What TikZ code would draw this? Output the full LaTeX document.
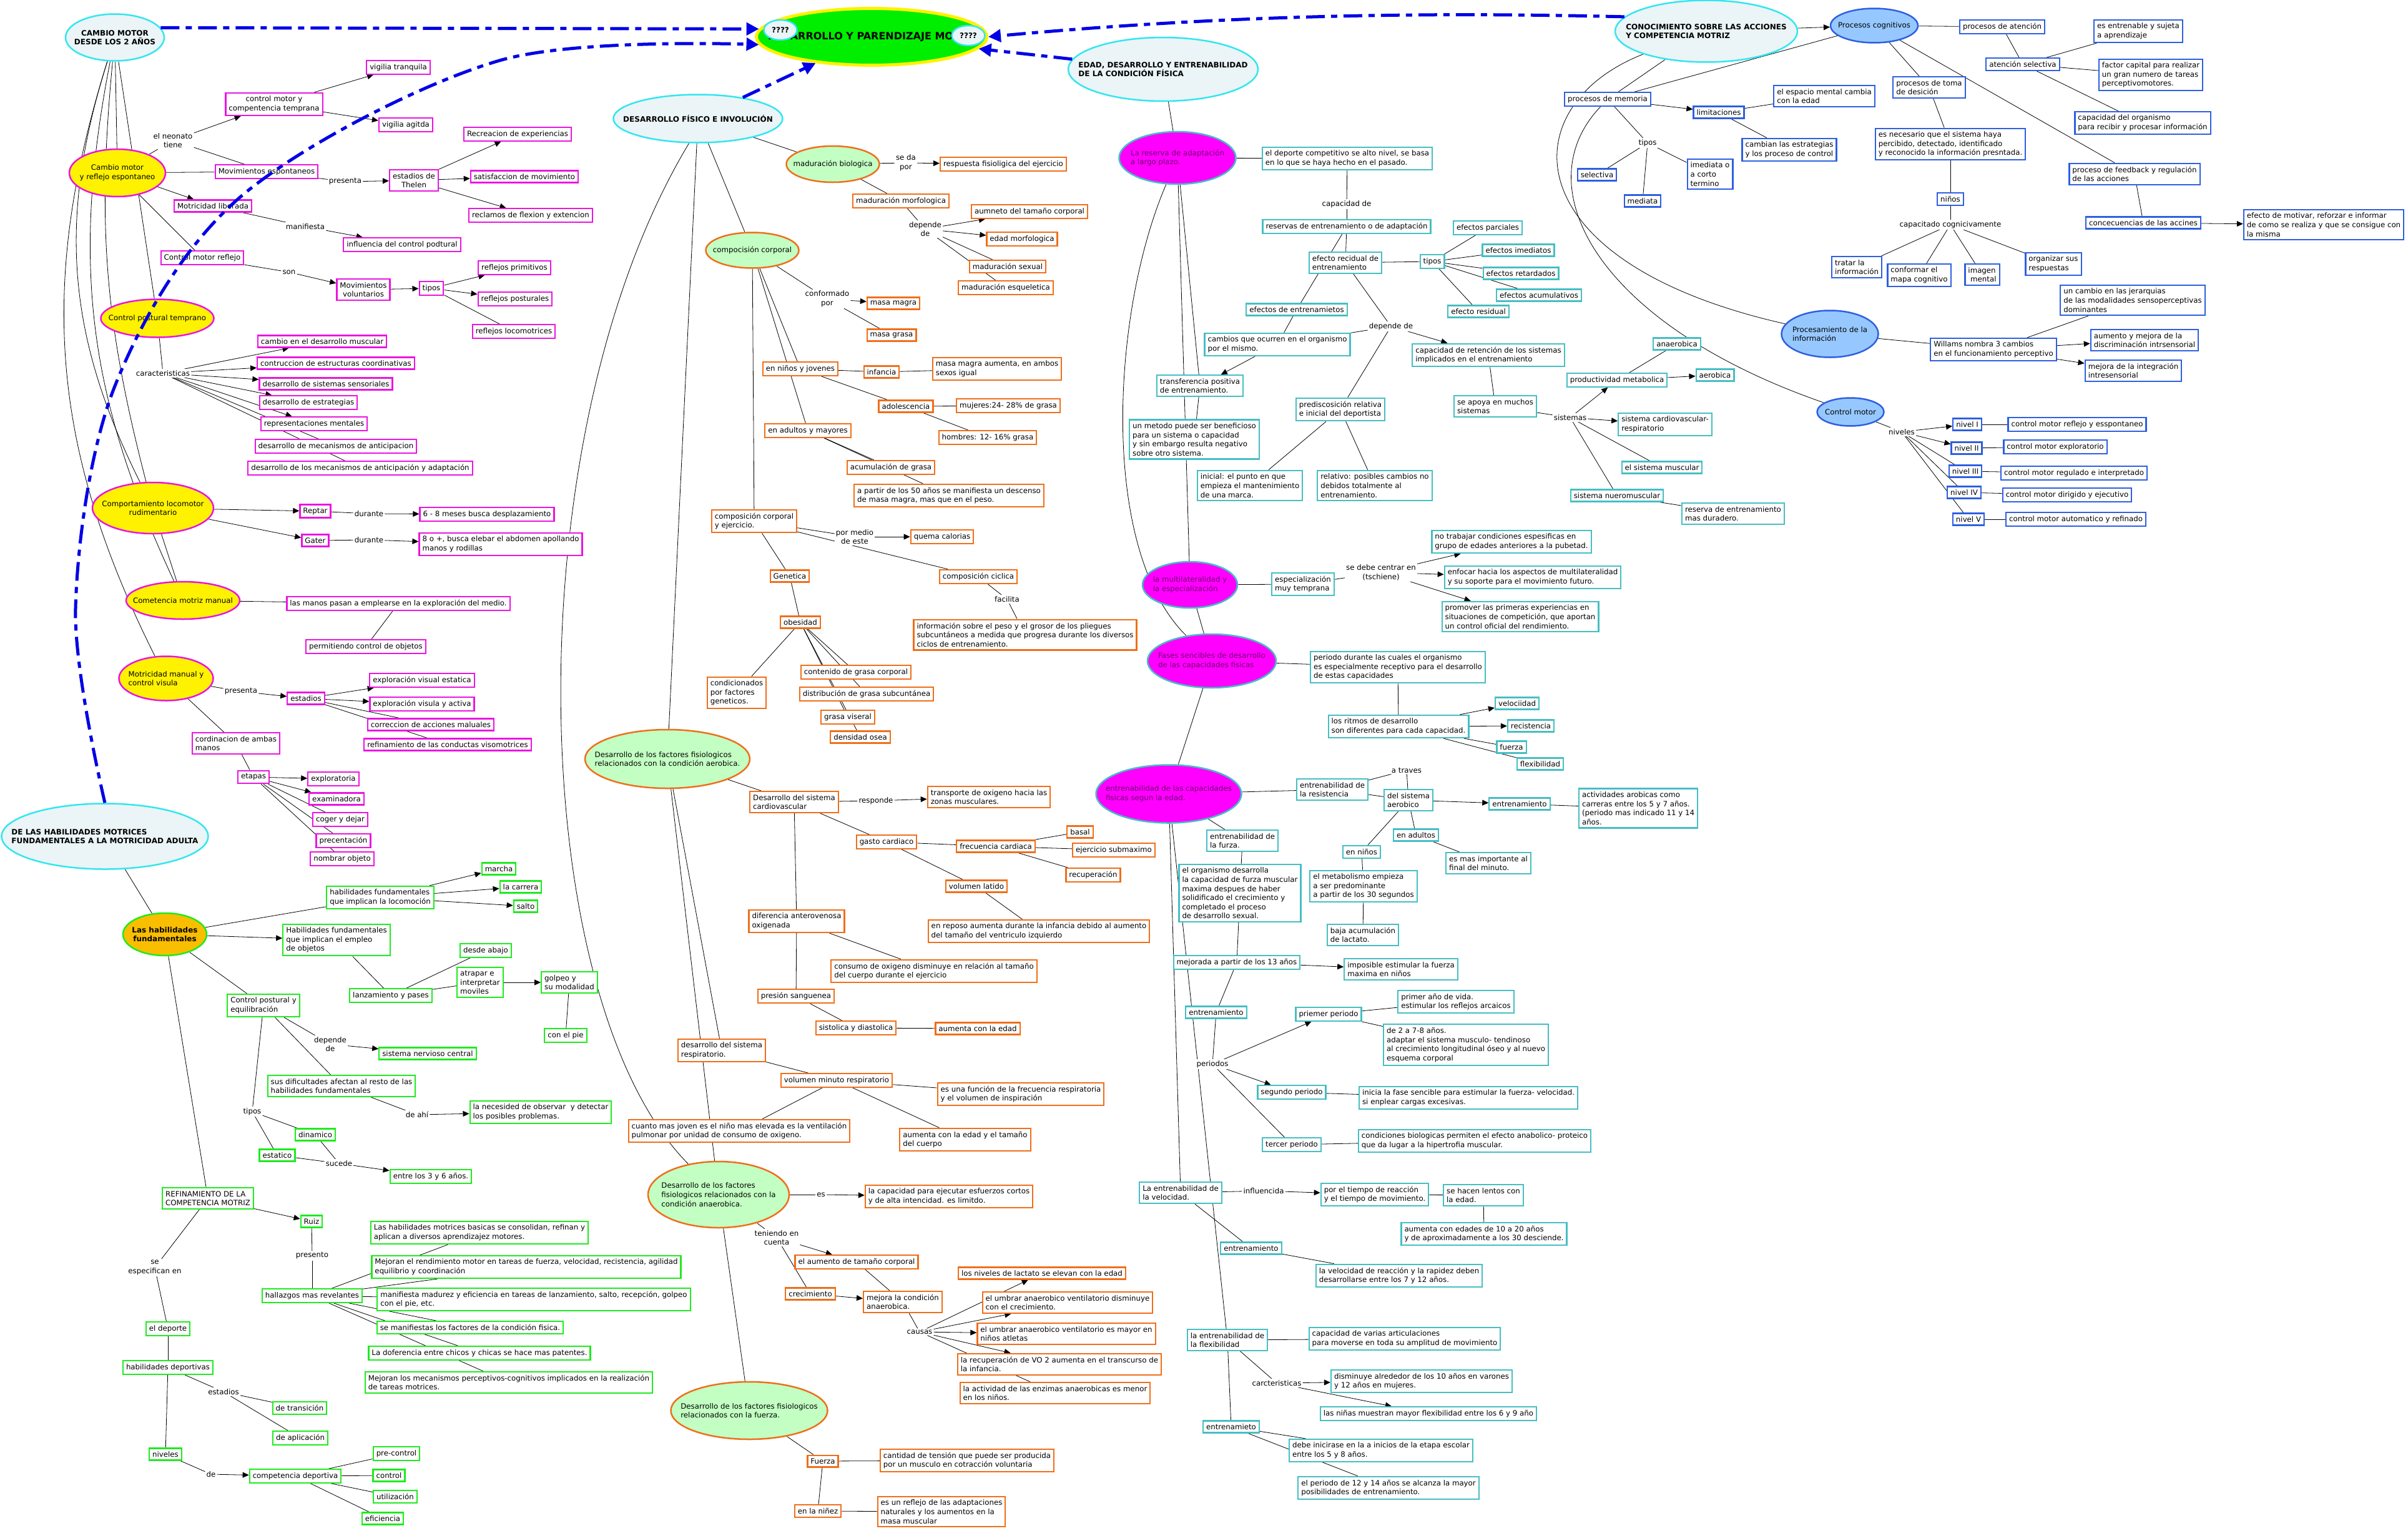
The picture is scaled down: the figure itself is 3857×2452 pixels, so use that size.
\documentclass[tikz,border=0pt]{standalone}
\usepackage{fontspec}
\setmainfont{DejaVu Sans}
\usetikzlibrary{shapes.geometric,arrows.meta}
\pgfdeclarelayer{back}
\pgfdeclarelayer{bg}
\pgfsetlayers{back,bg,main}
\definecolor{cMag}{RGB}{235,20,225}
\definecolor{cOra}{RGB}{240,110,25}
\definecolor{cTeal}{RGB}{70,190,195}
\definecolor{cBlue}{RGB}{45,95,225}
\definecolor{cGreen}{RGB}{30,235,30}
\definecolor{cLG}{RGB}{195,255,195}
\definecolor{cMagF}{RGB}{255,0,255}
\definecolor{cMagT}{RGB}{110,0,110}
\definecolor{cLB}{RGB}{150,200,255}
\definecolor{cTopic}{RGB}{235,244,246}
\definecolor{cCyan}{RGB}{50,230,240}
\definecolor{cCentral}{RGB}{0,238,0}
\definecolor{cAmber}{RGB}{250,190,0}
\definecolor{cDash}{RGB}{0,0,230}
\begin{document}
\begin{tikzpicture}[x=1pt,y=-1pt,
  every node/.style={font=\fontsize{11.8}{14.6}\selectfont, text=black},
  bx/.style={draw, line width=2.2pt, fill=white, inner xsep=5pt, inner ysep=5pt, align=left},
  pb/.style={bx, draw=cMag},
  ob/.style={bx, draw=cOra},
  tb/.style={bx, draw=cTeal},
  bb/.style={bx, draw=cBlue},
  gb/.style={bx, draw=cGreen},
  lk/.style={inner sep=2pt, align=center, fill=white},
  ttl/.style={font=\bfseries\fontsize{12}{14.6}\selectfont, align=center},
  mtx/.style={text=cMagT, align=left},
  ell/.style={ellipse, line width=2.5pt, inner sep=0pt},
  topic/.style={ell, draw=cCyan, fill=cTopic},
  yel/.style={ell, draw=cMag, fill=yellow},
  lg/.style={ell, draw=cOra, fill=cLG},
  mg/.style={ell, draw=cTeal, fill=cMagF},
  lb/.style={ell, draw=cBlue, fill=cLB},
  ln/.style={line width=0.8pt},
  ar/.style={ln, -{Triangle[length=10pt,width=9pt]}},
  bd/.style={line width=5pt, draw=cDash, dash pattern=on 30pt off 10pt on 10pt off 10pt, -{Triangle[length=20pt,width=20pt]}}
]
\begin{pgfonlayer}{back}
\fill[white] (0,0) rectangle (3857,2452);
\end{pgfonlayer}
\useasboundingbox (0,0) rectangle (3857,2452);

% ================= CENTRAL =================
\node[ell,draw=yellow,fill=cCentral,line width=5pt,minimum width=369pt,minimum height=91pt] (cen) at (1396,59) {};
\node[font=\bfseries\fontsize{16}{18}\selectfont] at (1397,59) {DESARROLLO Y PARENDIZAJE MOTOR};
\node[ell,draw=cCyan,fill=cTopic,minimum width=53pt,minimum height=32pt] (q1) at (1250,48) {};
\node[ttl] at (q1) {????};
\node[ell,draw=cCyan,fill=cTopic,minimum width=53pt,minimum height=32pt] (q2) at (1551,57) {};
\node[ttl] at (q2) {????};

% ================= LEFT: CAMBIO MOTOR =================
\node[topic,minimum width=158pt,minimum height=75pt] (cmd) at (184,60) {};
\node[ttl] at (cmd) {CAMBIO MOTOR\\DESDE LOS 2 AÑOS};
\node[yel,minimum width=154pt,minimum height=76pt] (cme) at (188,277) {};
\node[align=center] at (cme) {Cambio motor\\y reflejo espontaneo};
\node[pb,align=center] (cmct) at (439,167) {control motor y\\compentencia temprana};
\node[pb] (vt) at (638,108) {vigilia tranquila};
\node[pb] (va) at (650,200) {vigilia agitda};
\node[pb] (rec) at (829,215) {Recreacion de experiencias};
\node[lk] (neo) at (277,225) {el neonato\\tiene};
\node[pb] (mes) at (427,275) {Movimientos espontaneos};
\node[lk] (pres1) at (553,291) {presenta};
\node[pb,align=center] (the) at (663,289) {estadios de\\Thelen};
\node[pb] (sat) at (840,283) {satisfaccion de movimiento};
\node[pb] (recl) at (850,345) {reclamos de flexion y extencion};
\node[pb] (mlib) at (341,330) {Motricidad liberada};
\node[lk] (man) at (489,363) {manifiesta};
\node[pb] (inf) at (644,392) {influencia del control podtural};
\node[pb] (cmr) at (324,413) {Control motor reflejo};
\node[lk] (son) at (463,436) {son};
\node[pb,align=center] (mvol) at (582,464) {Movimientos\\voluntarios};
\node[pb] (tip1) at (691,462) {tipos};
\node[pb] (rpri) at (824,429) {reflejos primitivos};
\node[pb] (rpos) at (825,479) {reflejos posturales};
\node[pb] (rloc) at (823,531) {reflejos locomotrices};
\node[yel,minimum width=181pt,minimum height=61pt] (cpt) at (252,510) {};
\node at (cpt) {Control postural temprano};
\node[lk] (car) at (261,598) {caracteristicas};
\node[pb] (c1) at (516,547) {cambio en el desarrollo muscular};
\node[pb] (c2) at (538,582) {contruccion de estructuras coordinativas};
\node[pb] (c3) at (522,615) {desarrollo de sistemas sensoriales};
\node[pb] (c4) at (494,645) {desarrollo de estrategias};
\node[pb] (c5) at (503,679) {representaciones mentales};
\node[pb] (c6) at (538,715) {desarrollo de mecanismos de anticipacion};
\node[pb] (c7) at (577,750) {desarrollo de los mecanismos de anticipación y adaptación};
\node[yel,minimum width=194pt,minimum height=82pt] (clr) at (245,814) {};
\node[align=center] at (clr) {Comportamiento locomotor\\rudimentario};
\node[pb] (rep) at (505,819) {Reptar};
\node[lk] (dur1) at (591,823) {durante};
\node[pb] (m68) at (780,824) {6 - 8 meses busca desplazamiento};
\node[pb] (gat) at (505,866) {Gater};
\node[lk] (dur2) at (591,865) {durante};
\node[pb] (m8) at (802,872) {8 o +, busca elebar el abdomen apollando\\manos y rodillas};
\node[yel,minimum width=182pt,minimum height=60pt] (cmm) at (293,962) {};
\node at (cmm) {Cometencia motriz manual};
\node[pb] (lmp) at (638,967) {las manos pasan a emplearse en la exploración del medio.};
\node[pb] (pco) at (586,1036) {permitiendo control de objetos};
\node[yel,minimum width=151pt,minimum height=71pt] (mmc) at (266,1087) {};
\node[align=left] at (mmc) {Motricidad manual y\\control visula};
\node[lk] (pres2) at (386,1108) {presenta};
\node[pb] (est1) at (490,1119) {estadios};
\node[pb] (eve) at (676,1090) {exploración visual estatica};
\node[pb] (eva) at (676,1128) {exploración visula y activa};
\node[pb] (cam) at (690,1161) {correccion de acciones maluales};
\node[pb] (rcv) at (717,1193) {refinamiento de las conductas visomotrices};
\node[pb] (cam2) at (378,1191) {cordinacion de ambas\\manos};
\node[pb] (eta) at (406,1245) {etapas};
\node[pb] (e1) at (534,1248) {exploratoria};
\node[pb] (e2) at (539,1280) {examinadora};
\node[pb] (e3) at (545,1313) {coger y dejar};
\node[pb] (e4) at (550,1347) {precentación};
\node[pb] (e5) at (548,1376) {nombrar objeto};

% ================= LEFT: HABILIDADES =================
\node[topic,minimum width=331pt,minimum height=105pt] (dlh) at (168,1340) {};
\node[ttl,align=left] at (dlh) {DE LAS HABILIDADES MOTRICES\\FUNDAMENTALES A LA MOTRICIDAD ADULTA};
\node[ell,draw=cGreen,fill=cAmber,minimum width=134pt,minimum height=68pt] (lhf) at (264,1497) {};
\node[ttl] at (lhf) {Las habilidades\\fundamentales};
\node[gb] (hloc) at (609,1438) {habilidades fundamentales\\que implican la locomoción};
\node[gb] (mar) at (799,1392) {marcha};
\node[gb] (car2) at (834,1421) {la carrera};
\node[gb] (sal) at (842,1452) {salto};
\node[gb] (hobj) at (539,1506) {Habilidades fundamentales\\que implican el empleo\\de objetos};
\node[gb] (dab) at (778,1523) {desde abajo};
\node[gb] (atr) at (769,1574) {atrapar e\\interpretar\\moviles};
\node[gb] (gol) at (912,1574) {golpeo y\\su modalidad};
\node[gb] (lan) at (626,1595) {lanzamiento y pases};
\node[gb] (cpe) at (422,1611) {Control postural y\\equilibración};
\node[gb] (pie) at (906,1659) {con el pie};
\node[lk] (dep1) at (529,1673) {depende\\de};
\node[gb] (snc) at (685,1688) {sistema nervioso central};
\node[gb] (sdif) at (547,1740) {sus dificultades afectan al resto de las\\ habilidades fundamentales};
\node[lk] (deahi) at (668,1786) {de ahí};
\node[gb] (nec) at (866,1782) {la necesided de observar\ \ y detectar\\los posibles problemas.};
\node[lk] (tip2) at (404,1781) {tipos};
\node[gb] (din) at (505,1818) {dinamico};
\node[gb] (estt) at (444,1851) {estatico};
\node[lk] (suc) at (543,1864) {sucede};
\node[gb] (e36) at (690,1885) {entre los 3 y 6 años.};
\node[gb] (ref) at (333,1920) {REFINAMIENTO DE LA\\COMPETENCIA MOTRIZ};
\node[gb] (ruiz) at (499,1957) {Ruiz};
\node[lk] (presn) at (500,2012) {presento};
\node[gb] (h1) at (768,1975) {Las habilidades motrices basicas se consolidan, refinan y\\aplican a diversos aprendizajez motores.};
\node[gb] (h2) at (843,2030) {Mejoran el rendimiento motor en tareas de fuerza, velocidad, recistencia, agilidad\\equilibrio y coordinación};
\node[gb] (h3) at (855,2082) {manifiesta madurez y eficiencia en tareas de lanzamiento, salto, recepción, golpeo\\con el pie, etc.};
\node[gb] (h4) at (753,2127) {se manifiestas los factores de la condición fisica.};
\node[gb] (h5) at (768,2168) {La doferencia entre chicos y chicas se hace mas patentes.};
\node[gb] (h6) at (815,2215) {Mejoran los mecanismos perceptivos-cognitivos implicados en la realización\\de tareas motrices.};
\node[gb] (hal) at (500,2076) {hallazgos mas revelantes};
\node[lk] (esp) at (248,2031) {se\\especifican en};
\node[gb] (edep) at (269,2129) {el deporte};
\node[gb] (hdep) at (269,2191) {habilidades deportivas};
\node[lk] (est2) at (358,2230) {estadios};
\node[gb] (dtr) at (480,2256) {de transición};
\node[gb] (dap) at (481,2304) {de aplicación};
\node[gb] (niv) at (265,2330) {niveles};
\node[lk] (de1) at (338,2362) {de};
\node[gb] (cdep) at (473,2365) {competencia deportiva};
\node[gb] (pc) at (635,2329) {pre-control};
\node[gb] (ctl) at (623,2364) {control};
\node[gb] (uti) at (633,2398) {utilización};
\node[gb] (efi) at (613,2433) {eficiencia};

% ================= MIDDLE: DESARROLLO FISICO =================
\node[topic,minimum width=271pt,minimum height=77pt] (df) at (1118,190) {};
\node[ttl] at (df) {DESARROLLO FÍSICO E INVOLUCIÓN};
\node[lg,minimum width=149pt,minimum height=58pt] (mb) at (1334,263) {};
\node at (mb) {maduración biologica};
\node[lk] (sdp) at (1451,261) {se da\\por};
\node[ob] (resp) at (1607,263) {respuesta fisioligica del ejercicio};
\node[ob] (mmo) at (1443,322) {maduración morfologica};
\node[lk] (dep2) at (1482,367) {depende\\de};
\node[ob] (aum) at (1649,339) {aumneto del tamaño corporal};
\node[ob] (edm) at (1637,383) {edad morfologica};
\node[ob] (msx) at (1614,427) {maduración sexual};
\node[ob] (mes2) at (1611,461) {maduración esqueletica};
\node[lg,minimum width=149pt,minimum height=57pt] (cc) at (1205,401) {};
\node at (cc) {compocisión corporal};
\node[lk] (conf) at (1325,479) {conformado\\por};
\node[ob] (mmag) at (1431,486) {masa magra};
\node[ob] (mgra) at (1428,537) {masa grasa};
\node[ob] (nyj) at (1282,591) {en niños y jovenes};
\node[ob] (infa) at (1412,596) {infancia};
\node[ob] (mma) at (1597,591) {masa magra aumenta, en ambos\\sexos igual};
\node[ob] (adol) at (1451,651) {adolescencia};
\node[ob] (muj) at (1615,650) {mujeres:24- 28\% de grasa};
\node[ob] (hom) at (1582,701) {hombres: 12- 16\% grasa};
\node[ob] (aym) at (1294,690) {en adultos y mayores};
\node[ob] (acu) at (1427,749) {acumulación de grasa};
\node[ob] (a50) at (1520,794) {a partir de los 50 años se manifiesta un descenso\\ de masa magra, mas que en el peso.};
\node[ob] (cce) at (1208,835) {composición corporal\\y ejercicio.};
\node[lk] (pme) at (1369,860) {por medio\\de este};
\node[ob] (qc) at (1509,860) {quema calorias};
\node[ob] (gen) at (1265,923) {Genetica};
\node[ob] (cci) at (1567,924) {composición ciclica};
\node[lk] (fac) at (1613,960) {facilita};
\node[ob] (ipg) at (1642,1017) {información sobre el peso y el grosor de los pliegues\\subcuntáneos a medida que progresa durante los diversos\\ciclos de entrenamiento.};
\node[ob] (obe) at (1282,997) {obesidad};
\node[ob] (cfg) at (1180,1110) {condicionados\\por factores\\geneticos.};
\node[ob] (cgc) at (1371,1077) {contenido de grasa corporal};
\node[ob] (dgs) at (1388,1112) {distribución de grasa subcuntánea};
\node[ob] (gv) at (1358,1149) {grasa viseral};
\node[ob] (dos) at (1378,1181) {densidad osea};
\node[lg,minimum width=264pt,minimum height=94pt] (aer) at (1069,1216) {};
\node[align=left] at (aer) {Desarrollo de los factores fisiologicos\\relacionados con la condición aerobica.};
\node[ob] (dsc) at (1272,1285) {Desarrollo del sistema\\cardiovascular};
\node[lk] (res) at (1403,1283) {responde};
\node[ob] (tox) at (1584,1277) {transporte de oxigeno hacia las\\zonas musculares.};
\node[ob] (gc) at (1420,1349) {gasto cardiaco};
\node[ob] (fc) at (1595,1356) {frecuencia cardiaca};
\node[ob] (bas) at (1730,1333) {basal};
\node[ob] (esm) at (1784,1362) {ejercicio submaximo};
\node[ob] (recu) at (1751,1402) {recuperación};
\node[ob] (vl) at (1564,1420) {volumen latido};
\node[ob] (erp) at (1664,1492) {en reposo aumenta durante la infancia debido al aumento\\del tamaño del ventriculo izquierdo};
\node[ob] (dao) at (1276,1476) {diferencia anterovenosa\\oxigenada};
\node[ob] (cox) at (1496,1556) {consumo de oxigeno disminuye en relación al tamaño\\del cuerpo durante el ejercicio};
\node[ob] (ps) at (1275,1596) {presión sanguenea};
\node[ob] (syd) at (1371,1647) {sistolica y diastolica};
\node[ob] (ace) at (1566,1648) {aumenta con la edad};
\node[ob] (dsr) at (1156,1683) {desarrollo del sistema\\respiratorio.};
\node[ob] (vmr) at (1340,1731) {volumen minuto respiratorio};
\node[ob] (fre) at (1635,1753) {es una función de la frecuencia respiratoria\\y el volumen de inspiración};
\node[ob] (cmj) at (1184,1812) {cuanto mas joven es el niño mas elevada es la ventilación\\pulmonar por unidad de consumo de oxigeno.};
\node[ob] (acet) at (1546,1826) {aumenta con la edad y el tamaño\\del cuerpo};
\node[lg,minimum width=226pt,minimum height=106pt] (ana) at (1151,1914) {};
\node[align=left] at (ana) {Desarrollo de los factores\\fisiologicos relacionados con la\\condición anaerobica.};
\node[lk] (es1) at (1315,1914) {es};
\node[ob] (cap) at (1520,1917) {la capacidad para ejecutar esfuerzos cortos\\y de alta intencidad. es limitdo.};
\node[lk] (tec) at (1244,1983) {teniendo en\\cuenta};
\node[ob] (atc) at (1372,2022) {el aumento de tamaño corporal};
\node[ob] (cre) at (1298,2073) {crecimiento};
\node[ob] (mca) at (1446,2086) {mejora la condición\\anaerobica.};
\node[lk] (cau) at (1473,2134) {causas};
\node[ob] (lac) at (1669,2040) {los niveles de lactato se elevan con la edad};
\node[ob] (ua1) at (1710,2087) {el umbrar anaerobico ventilatorio disminuye\\con el crecimiento.};
\node[ob] (ua2) at (1708,2137) {el umbrar anaerobico ventilatorio es mayor en\\niños atletas};
\node[ob] (vo2) at (1697,2186) {la recuperación de VO 2 aumenta en el transcurso de\\la infancia.};
\node[ob] (enz) at (1690,2232) {la actividad de las enzimas anaerobicas es menor\\en los niños.};
\node[lg,minimum width=251pt,minimum height=92pt] (fue) at (1200,2260) {};
\node[align=left] at (fue) {Desarrollo de los factores fisiologicos\\relacionados con la fuerza.};
\node[ob] (fz) at (1318,2341) {Fuerza};
\node[ob] (ctv) at (1549,2340) {cantidad de tensión que puede ser producida\\por un musculo en cotracción voluntaria};
\node[ob] (enn) at (1310,2421) {en la niñez};
\node[ob] (ref2) at (1508,2422) {es un reflejo de las adaptaciones\\naturales y los aumentos en la\\masa muscular};

% ================= EDAD =================
\node[topic,minimum width=304pt,minimum height=102pt] (edad) at (1863,111) {};
\node[ttl,align=left] at (edad) {EDAD, DESARROLLO Y ENTRENABILIDAD\\DE LA CONDICIÓN FÍSICA};
\node[mg,minimum width=187pt,minimum height=84pt] (rsv) at (1886,253) {};
\node[mtx] at (rsv) {La reserva de adaptación\\a largo plazo.};
\node[tb] (dco) at (2158,254) {el deporte competitivo se alto nivel, se basa\\en lo que se haya hecho en el pasado.};
\node[lk] (capd) at (2157,327) {capacidad de};
\node[tb] (rea) at (2157,363) {reservas de entrenamiento o de adaptación};
\node[tb] (erd) at (2155,421) {efecto recidual de\\entrenamiento};
\node[tb] (tip3) at (2294,419) {tipos};
\node[tb] (ep) at (2383,365) {efectos parciales};
\node[tb] (ei) at (2432,401) {efectos imediatos};
\node[tb] (er) at (2436,438) {efectos retardados};
\node[tb] (ea) at (2465,473) {efectos acumulativos};
\node[tb] (eres) at (2368,499) {efecto residual};
\node[tb] (ede) at (2077,496) {efectos de entrenamietos};
\node[lk] (dep3) at (2228,523) {depende de};
\node[tb] (cqo) at (2046,552) {cambios que ocurren en el organismo\\por el mismo.};
\node[tb] (tpe) at (1922,618) {transferencia positiva\\de entrenamiento.};
\node[tb] (umb) at (1913,704) {un metodo puede ser beneficioso\\para un sistema o capacidad\\y sin embargo resulta negativo\\sobre otro sistema.};
\node[tb] (ini) at (2002,778) {inicial: el punto en que\\empieza el mantenimiento\\de una marca.};
\node[tb] (pri) at (2147,656) {prediscosición relativa\\e inicial del deportista};
\node[tb] (rel) at (2202,778) {relativo: posibles cambios no\\debidos totalmente al\\entrenamiento.};
\node[tb] (crs) at (2384,569) {capacidad de retención de los sistemas\\implicados en el entrenamiento};
\node[tb] (sam) at (2395,651) {se apoya en muchos\\sistemas};
\node[lk] (sis) at (2515,669) {sistemas};
\node[tb] (pme2) at (2590,609) {productividad metabolica};
\node[tb] (anb) at (2686,551) {anaerobica};
\node[tb] (aeb) at (2747,601) {aerobica};
\node[tb] (scr) at (2667,680) {sistema cardiovascular-\\ respiratorio};
\node[tb] (smu) at (2662,749) {el sistema muscular};
\node[tb] (snm) at (2590,794) {sistema nueromuscular};
\node[tb] (rem) at (2776,823) {reserva de entrenamiento\\mas duradero.};
\node[mg,minimum width=152pt,minimum height=74pt] (mul) at (1906,937) {};
\node[mtx] at (mul) {la multilateralidad y\\la especialización};
\node[tb] (emt) at (2087,936) {especialización\\ muy temprana};
\node[lk] (sdc) at (2212,917) {se debe centrar en\\(tschiene)};
\node[tb] (ntc) at (2421,868) {no trabajar condiciones espesificas en\\ grupo de edades anteriores a la pubetad.};
\node[tb] (enf) at (2455,925) {enfocar hacia los aspectos de multilateralidad\\y su soporte para el movimiento futuro.};
\node[tb] (pro) at (2435,988) {promover las primeras experiencias en\\situaciones de competición, que aportan\\un control oficial del rendimiento.};
\node[mg,minimum width=206pt,minimum height=86pt] (fas) at (1941,1059) {};
\node[mtx] at (fas) {Fases sencibles de desarrollo\\de las capacidades fisicas};
\node[tb] (pdc) at (2239,1069) {periodo durante las cuales el organismo\\es especialmente receptivo para el desarrollo\\ de estas capacidades};
\node[tb] (rit) at (2240,1164) {los ritmos de desarrollo\\son diferentes para cada capacidad.};
\node[tb] (vel) at (2430,1127) {velociidad};
\node[tb] (rec2) at (2452,1163) {recistencia};
\node[tb] (fza) at (2421,1197) {fuerza};
\node[tb] (flx) at (2467,1224) {flexibilidad};
\node[mg,minimum width=233pt,minimum height=93pt] (ent) at (1872,1272) {};
\node[mtx] at (ent) {entrenabilidad de las capacidades\\fisicas segun la edad.};
\node[tb] (eres2) at (2134,1265) {entrenabilidad de\\la resistencia};
\node[lk] (atr2) at (2253,1234) {a traves};
\node[tb] (dsa) at (2256,1282) {del sistema\\aerobico};
\node[tb] (entr1) at (2434,1288) {entrenamiento};
\node[tb] (aca) at (2624,1295) {actividades arobicas como\\carreras entre los 5 y 7 años.\\(periodo mas indicado 11 y 14\\años.};
\node[tb] (enin) at (2181,1365) {en niños};
\node[tb] (ead) at (2268,1338) {en adultos};
\node[tb] (emi) at (2384,1383) {es mas importante al\\final del minuto.};
\node[tb] (met) at (2184,1420) {el metabolismo empieza\\a ser predominante\\a partir de los 30 segundos};
\node[tb] (baj) at (2183,1498) {baja acumulación\\de lactato.};
\node[tb] (efz) at (1990,1347) {entrenabilidad de\\la furza.};
\node[tb] (eod) at (1986,1431) {el organismo desarrolla\\la capacidad de furza muscular\\maxima despues de haber\\solidificado el crecimiento y\\completado el proceso\\de desarrollo sexual.};
\node[tb] (m13) at (1981,1542) {mejorada a partir de los 13 años};
\node[tb] (imp) at (2244,1553) {imposible estimular la fuerza\\maxima en niños};
\node[tb] (entr2) at (1948,1622) {entrenamiento};
\node[tb] (pp) at (2128,1625) {priemer periodo};
\node[tb] (pav) at (2332,1605) {primer año de vida.\\estimular los reflejos arcaicos};
\node[tb] (d27) at (2348,1674) {de 2 a 7-8 años.\\adaptar el sistema musculo- tendinoso\\al crecimiento longitudinal óseo y al nuevo\\esquema corporal};
\node[lk] (per) at (1942,1705) {periodos};
\node[tb] (sp) at (2069,1750) {segundo periodo};
\node[tb] (ifs) at (2352,1759) {inicia la fase sencible para estimular la fuerza- velocidad.\\si enplear cargas excesivas.};
\node[tb] (tp) at (2069,1834) {tercer periodo};
\node[tb] (cbp) at (2362,1828) {condiciones biologicas permiten el efecto anabolico- proteico\\que da lugar a la hipertrofia muscular.};
\node[tb] (evl) at (1891,1911) {La entrenabilidad de\\la velocidad.};
\node[lk] (infl) at (2024,1908) {influencida};
\node[tb] (ptr) at (2202,1914) {por el tiempo de reacción\\y el tiempo de movimiento.};
\node[tb] (shl) at (2376,1915) {se hacen lentos con\\la edad.};
\node[tb] (a1020) at (2377,1977) {aumenta con edades de 10 a 20 años\\y de aproximadamente a los 30 desciende.};
\node[tb] (entr3) at (2004,2000) {entrenamiento};
\node[tb] (vrr) at (2241,2044) {la velocidad de reacción y la rapidez deben\\desarrollarse entre los 7 y 12 años.};
\node[tb] (efl) at (1966,2147) {la entrenabilidad de\\la flexibilidad};
\node[tb] (cva) at (2250,2145) {capacidad de varias articulaciones\\para moverse en toda su amplitud de movimiento};
\node[lk] (carc) at (2045,2216) {carcteristicas};
\node[tb] (dis) at (2277,2213) {disminuye alrededor de los 10 años en varones\\y 12 años en mujeres.};
\node[tb] (nin) at (2288,2265) {las niñas muestran mayor flexibilidad entre los 6 y 9 año};
\node[tb] (entr4) at (1972,2286) {entrenamieto};
\node[tb] (dbi) at (2212,2324) {debe inicirase en la a inicios de la etapa escolar\\entre los 5 y 8 años.};
\node[tb] (p1214) at (2224,2384) {el periodo de 12 y 14 años se alcanza la mayor\\posibilidades de entrenamiento.};

% ================= CONOCIMIENTO =================
\node[topic,minimum width=292pt,minimum height=99pt] (con) at (2733,50) {};
\node[ttl,align=left] at (con) {CONOCIMIENTO SOBRE LAS ACCIONES\\Y COMPETENCIA MOTRIZ};
\node[bb] (pm) at (2575,159) {procesos de memoria};
\node[bb] (lim) at (2753,180) {limitaciones};
\node[bb] (emc) at (2922,154) {el espacio mental cambia\\con la edad};
\node[bb] (cle) at (2866,240) {cambian las estrategias\\y los proceso de control};
\node[lk] (tip4) at (2639,229) {tipos};
\node[bb] (sel) at (2558,280) {selectiva};
\node[bb] (med) at (2631,322) {mediata};
\node[bb] (imd) at (2739,279) {imediata o\\a corto\\termino};
\node[lb,minimum width=140pt,minimum height=55pt] (pcog) at (3002,41) {};
\node at (pcog) {Procesos cognitivos};
\node[bb] (pat) at (3207,43) {procesos de atención};
\node[bb] (esj) at (3425,50) {es entrenable y sujeta\\a aprendizaje};
\node[bb] (asel) at (3240,103) {atención selectiva};
\node[bb] (fcp) at (3445,120) {factor capital para realizar\\un gran numero de tareas\\perceptivomotores.};
\node[bb] (cdo) at (3432,197) {capacidad del organismo\\para recibir y procesar información};
\node[bb] (ptd) at (3090,140) {procesos de toma\\de desición};
\node[bb] (enc) at (3124,231) {es necesario que el sistema haya\\percibido, detectado, identificado\\y reconocido la información presntada.};
\node[bb] (pfr) at (3419,279) {proceso de feedback y regulación\\de las acciones};
\node[bb] (cda) at (3433,357) {concecuencias de las accines};
\node[bb] (emr) at (3722,360) {efecto de motivar, reforzar e informar\\de como se realiza y que se consigue con\\la misma};
\node[bb] (nin2) at (3124,319) {niños};
\node[lk] (capc) at (3124,360) {capacitado cognicivamente};
\node[bb] (tla) at (2974,428) {tratar la\\información};
\node[bb] (cmc) at (3074,441) {conformar el\\mapa cognitivo};
\node[bb] (ime) at (3175,440) {imagen\\\ mental};
\node[bb] (osr) at (3289,423) {organizar sus\\respuestas};
\node[lb,minimum width=155pt,minimum height=75pt] (pin) at (2931,535) {};
\node[align=left] at (pin) {Procesamiento de la\\información};
\node[bb] (ucj) at (3416,481) {un cambio en las jerarquias\\de las modalidades sensoperceptivas\\dominantes};
\node[bb] (wil) at (3193,560) {Willams nombra 3 cambios\\en el funcionamiento perceptivo};
\node[bb] (amd) at (3435,545) {aumento y mejora de la\\discriminación intrsensorial};
\node[bb] (mdi) at (3417,594) {mejora de la integración\\intresensorial};
\node[lb,minimum width=107pt,minimum height=45pt] (cmo) at (2964,660) {};
\node at (cmo) {Control motor};
\node[lk] (nivs) at (3046,692) {niveles};
\node[bb] (n1) at (3151,680) {nivel I};
\node[bb] (k1) at (3327,680) {control motor reflejo y esspontaneo};
\node[bb] (n2) at (3150,718) {nivel II};
\node[bb] (k2) at (3292,716) {control motor exploratorio};
\node[bb] (n3) at (3148,755) {nivel III};
\node[bb] (k3) at (3322,758) {control motor regulado e interpretado};
\node[bb] (n4) at (3146,789) {nivel IV};
\node[bb] (k4) at (3311,793) {control motor dirigido y ejecutivo};
\node[bb] (n5) at (3153,832) {nivel V};
\node[bb] (k5) at (3325,832) {control motor automatico y refinado};

% ================= CONNECTORS =================
\coordinate (w1) at (121,975);
\coordinate (w2) at (185,616);
\coordinate (w3) at (388,313);
\coordinate (w4) at (800,97);
\begin{pgfonlayer}{bg}
% left
\draw[ln] (cmd) -- (cme);
\draw[ln] (cmd) -- (cpt);
\draw[ln] (cmd) to[bend right=10] (clr);
\draw[ln] (cmd) to[bend right=22] (clr);
\draw[ln] (cmd) to[bend right=18] (cmm);
\draw[ln] (cmd) to[bend right=22] (mmc);
\draw[ln] (cme) -- (neo); \draw[ar] (neo) -- (cmct); \draw[ln] (neo) -- (mes);
\draw[ar] (cmct) -- (vt); \draw[ar] (cmct) -- (va);
\draw[ln] (cme) -- (mes);
\draw[ln] (mes) -- (pres1); \draw[ar] (pres1) -- (the);
\draw[ar] (the) -- (rec); \draw[ar] (the) -- (sat); \draw[ar] (the) -- (recl);
\draw[ar] (cme) -- (mlib);
\draw[ln] (mlib) -- (man); \draw[ar] (man) -- (inf);
\draw[ln] (cme) -- (cmr);
\draw[ln] (cmr) -- (son); \draw[ar] (son) -- (mvol);
\draw[ar] (mvol) -- (tip1);
\draw[ar] (tip1) -- (rpri); \draw[ar] (tip1) -- (rpos); \draw[ln] (tip1) -- (rloc);
\draw[ln] (cpt) -- (car);
\draw[ar] (car) -- (c1); \draw[ar] (car) -- (c2); \draw[ar] (car) -- (c3); \draw[ar] (car) -- (c4); \draw[ar] (car) -- (c5);
\draw[ln] (car) -- (c6); \draw[ln] (car) -- (c7);
\draw[ar] (clr) -- (rep); \draw[ar] (clr) -- (gat);
\draw[ln] (rep) -- (dur1); \draw[ar] (dur1) -- (m68);
\draw[ln] (gat) -- (dur2); \draw[ar] (dur2) -- (m8);
\draw[ln] (clr) -- (cmm);
\draw[ln] (cmm) -- (lmp); \draw[ln] (lmp) -- (pco);
\draw[ln] (mmc) -- (pres2); \draw[ar] (pres2) -- (est1);
\draw[ar] (est1) -- (eve); \draw[ar] (est1) -- (eva); \draw[ln] (est1) -- (cam); \draw[ln] (est1) -- (rcv);
\draw[ln] (mmc) -- (cam2); \draw[ln] (cam2) -- (eta);
\draw[ar] (eta) -- (e1); \draw[ar] (eta) -- (e2); \draw[ln] (eta) -- (e3); \draw[ln] (eta) -- (e4); \draw[ln] (eta) -- (e5);
\draw[ln] (dlh) -- (lhf);
\draw[ln] (lhf) -- (hloc); \draw[ar] (hloc) -- (mar); \draw[ar] (hloc) -- (car2); \draw[ar] (hloc) -- (sal);
\draw[ar] (lhf) -- (hobj); \draw[ln] (hobj) -- (lan); \draw[ln] (lan) -- (dab); \draw[ln] (lan) -- (atr);
\draw[ar] (atr) -- (gol); \draw[ln] (gol) -- (pie);
\draw[ln] (lhf) -- (cpe);
\draw[ln] (cpe) -- (dep1); \draw[ar] (dep1) -- (snc);
\draw[ln] (cpe) -- (sdif); \draw[ln] (sdif) -- (deahi); \draw[ar] (deahi) -- (nec);
\draw[ln] (cpe) -- (tip2); \draw[ln] (tip2) -- (din); \draw[ln] (tip2) -- (estt);
\draw[ln] (din) -- (suc); \draw[ln] (estt) -- (suc); \draw[ar] (suc) -- (e36);
\draw[ln] (lhf) -- (ref);
\draw[ar] (ref) -- (ruiz); \draw[ln] (ruiz) -- (presn); \draw[ln] (presn) -- (hal);
\draw[ln] (hal) -- (h1); \draw[ln] (hal) -- (h2); \draw[ln] (hal) -- (h3); \draw[ln] (hal) -- (h4); \draw[ln] (hal) -- (h5); \draw[ln] (hal) -- (h6);
\draw[ln] (ref) -- (esp); \draw[ln] (esp) -- (edep); \draw[ln] (edep) -- (hdep);
\draw[ln] (hdep) -- (est2); \draw[ln] (est2) -- (dtr); \draw[ln] (est2) -- (dap);
\draw[ln] (hdep) -- (niv); \draw[ln] (niv) -- (de1); \draw[ar] (de1) -- (cdep);
\draw[ln] (cdep) -- (pc); \draw[ln] (cdep) -- (ctl); \draw[ln] (cdep) -- (uti); \draw[ln] (cdep) -- (efi);
% middle
\draw[ln] (df) -- (mb); \draw[ln] (df) -- (cc);
\draw[ln] (df) -- (aer);
\draw[ln] (df.250) .. controls (820,700) and (840,1600) .. (ana);
\draw[ln] (aer) -- (ana);
\draw[ln] (mb) -- (sdp); \draw[ar] (sdp) -- (resp);
\draw[ln] (mb) -- (mmo); \draw[ln] (mmo) -- (dep2);
\draw[ar] (dep2) -- (aum); \draw[ar] (dep2) -- (edm); \draw[ln] (dep2) -- (msx); \draw[ln] (dep2) -- (mes2);
\draw[ln] (cc) -- (conf); \draw[ar] (conf) -- (mmag); \draw[ln] (conf) -- (mgra);
\draw[ln] (cc) -- (nyj); \draw[ln] (cc) -- (aym); \draw[ln] (cc) -- (cce);
\draw[ln] (nyj) -- (infa); \draw[ln] (infa) -- (mma); \draw[ln] (nyj) -- (adol);
\draw[ln] (adol) -- (muj); \draw[ln] (adol) -- (hom);
\draw[ln] (aym) -- (acu); \draw[ln] (aym) -- (a50);
\draw[ln] (cce) -- (pme); \draw[ar] (pme) -- (qc);
\draw[ln] (cce) -- (cci); \draw[ln] (cci) -- (fac); \draw[ln] (fac) -- (ipg);
\draw[ln] (cce) -- (gen); \draw[ln] (gen) -- (obe);
\draw[ln] (obe) -- (cfg); \draw[ln] (obe) -- (cgc); \draw[ln] (obe) -- (dgs); \draw[ln] (obe) -- (gv); \draw[ln] (obe) -- (dos);
\draw[ln] (aer) -- (dsc); \draw[ln] (dsc) -- (res); \draw[ar] (res) -- (tox);
\draw[ln] (dsc) -- (gc); \draw[ln] (gc) -- (fc);
\draw[ln] (fc) -- (bas); \draw[ln] (fc) -- (esm); \draw[ln] (fc) -- (recu);
\draw[ln] (gc) -- (vl); \draw[ln] (vl) -- (erp);
\draw[ln] (dsc) -- (dao); \draw[ln] (dao) -- (cox); \draw[ln] (dao) -- (ps);
\draw[ln] (ps) -- (syd); \draw[ln] (syd) -- (ace);
\draw[ln] (aer) -- (dsr); \draw[ln] (dsr) -- (vmr);
\draw[ln] (vmr) -- (fre); \draw[ln] (vmr) -- (cmj); \draw[ln] (vmr) -- (acet);
\draw[ln] (ana) -- (es1); \draw[ar] (es1) -- (cap);
\draw[ln] (ana) -- (tec); \draw[ar] (tec) -- (atc); \draw[ln] (tec) -- (cre);
\draw[ln] (atc) -- (mca); \draw[ar] (cre) -- (mca);
\draw[ln] (mca) -- (cau);
\draw[ar] (cau) -- (lac); \draw[ar] (cau) -- (ua1); \draw[ar] (cau) -- (ua2); \draw[ar] (cau) -- (vo2); \draw[ln] (cau) -- (enz);
\draw[ln] (ana) -- (fue);
\draw[ln] (fue) -- (fz); \draw[ln] (fz) -- (ctv); \draw[ln] (fz) -- (enn); \draw[ln] (enn) -- (ref2);
% edad
\draw[ln] (edad) -- (rsv);
\draw[ln] (rsv) -- (dco); \draw[ln] (dco) -- (capd); \draw[ln] (capd) -- (rea);
\draw[ln] (rea) -- (erd); \draw[ln] (rea) -- (ede);
\draw[ln] (erd) -- (tip3);
\draw[ln] (tip3) -- (ep); \draw[ln] (tip3) -- (ei); \draw[ln] (tip3) -- (er); \draw[ln] (tip3) -- (ea); \draw[ln] (tip3) -- (eres);
\draw[ln] (erd) -- (dep3); \draw[ar] (dep3) -- (crs); \draw[ln] (dep3) -- (cqo); \draw[ln] (dep3) -- (pri);
\draw[ln] (ede) -- (cqo); \draw[ar] (cqo) -- (tpe);
\draw[ln] (pri) -- (ini); \draw[ln] (pri) -- (rel);
\draw[ln] (crs) -- (sam); \draw[ln] (sam) -- (sis);
\draw[ar] (sis) -- (pme2); \draw[ar] (sis) -- (scr); \draw[ln] (sis) -- (smu); \draw[ln] (sis) -- (snm);
\draw[ln] (pme2) -- (anb); \draw[ar] (pme2) -- (aeb);
\draw[ln] (snm) -- (rem);
\draw[ln] (rsv) -- (tpe); \draw[ln] (tpe) -- (umb); \draw[ln] (rsv) -- (mul);
\draw[ln] (rsv) .. controls (1780,500) and (1760,880) .. (fas);
\draw[ln] (mul) -- (fas); \draw[ln] (fas) -- (ent);
\draw[ln] (mul) -- (emt); \draw[ln] (emt) -- (sdc);
\draw[ar] (sdc) -- (ntc); \draw[ar] (sdc) -- (enf); \draw[ar] (sdc) -- (pro);
\draw[ln] (fas) -- (pdc); \draw[ln] (pdc) -- (rit);
\draw[ar] (rit) -- (vel); \draw[ar] (rit) -- (rec2); \draw[ln] (rit) -- (fza); \draw[ln] (rit) -- (flx);
\draw[ln] (ent) -- (eres2); \draw[ln] (eres2) -- (atr2); \draw[ln] (atr2) -- (dsa); \draw[ln] (eres2) -- (dsa);
\draw[ar] (dsa) -- (entr1); \draw[ln] (entr1) -- (aca);
\draw[ln] (dsa) -- (enin); \draw[ln] (enin) -- (met); \draw[ln] (met) -- (baj);
\draw[ln] (dsa) -- (ead); \draw[ln] (ead) -- (emi);
\draw[ln] (ent) -- (efz); \draw[ln] (efz) -- (eod); \draw[ln] (eod) -- (m13); \draw[ar] (m13) -- (imp);
\draw[ln] (m13) -- (entr2); \draw[ln] (entr2) -- (per);
\draw[ar] (per) -- (pp); \draw[ar] (per) -- (sp); \draw[ln] (per) -- (tp);
\draw[ln] (pp) -- (pav); \draw[ln] (pp) -- (d27); \draw[ln] (sp) -- (ifs); \draw[ln] (tp) -- (cbp);
\draw[ln] (ent) -- (evl); \draw[ln] (ent) -- (efl);
\draw[ln] (evl) -- (infl); \draw[ar] (infl) -- (ptr); \draw[ln] (ptr) -- (shl); \draw[ln] (shl) -- (a1020);
\draw[ln] (evl) -- (entr3); \draw[ln] (entr3) -- (vrr);
\draw[ln] (efl) -- (cva); \draw[ln] (efl) -- (carc); \draw[ar] (carc) -- (dis); \draw[ar] (carc) -- (nin);
\draw[ln] (efl) -- (entr4); \draw[ln] (entr4) -- (dbi); \draw[ln] (entr4) -- (p1214);
% conocimiento
\draw[ar] (con) -- (pcog);
\draw[ln] (con) -- (pm);
\draw[ln] (pm) -- (pcog);
\draw[ln] (con.200) .. controls (2420,170) and (2420,420) .. (pin);
\draw[ln] (pm) .. controls (2440,300) and (2560,520) .. (cmo);
\draw[ar] (pm) -- (lim); \draw[ln] (lim) -- (emc); \draw[ln] (lim) -- (cle);
\draw[ln] (pm) -- (tip4); \draw[ln] (tip4) -- (sel); \draw[ln] (tip4) -- (med); \draw[ln] (tip4) -- (imd);
\draw[ln] (pcog) -- (pat); \draw[ln] (pat) -- (asel);
\draw[ln] (asel) -- (esj); \draw[ln] (asel) -- (fcp); \draw[ln] (asel) -- (cdo);
\draw[ln] (pcog) -- (ptd); \draw[ln] (ptd) -- (enc); \draw[ln] (enc) -- (nin2); \draw[ln] (nin2) -- (capc);
\draw[ln] (capc) -- (tla); \draw[ln] (capc) -- (cmc); \draw[ln] (capc) -- (ime); \draw[ln] (capc) -- (osr);
\draw[ln] (pcog) -- (pfr); \draw[ln] (pfr) -- (cda); \draw[ar] (cda) -- (emr);
\draw[ln] (pin) -- (wil); \draw[ln] (wil) -- (ucj); \draw[ar] (wil) -- (amd); \draw[ar] (wil) -- (mdi);
\draw[ln] (cmo) -- (nivs); \draw[ar] (nivs) -- (n1); \draw[ar] (nivs) -- (n2);
\draw[ln] (nivs) -- (n3); \draw[ln] (nivs) -- (n4); \draw[ln] (nivs) -- (n5);
\draw[ln] (n1) -- (k1); \draw[ln] (n2) -- (k2); \draw[ln] (n3) -- (k3); \draw[ln] (n4) -- (k4); \draw[ln] (n5) -- (k5);
\end{pgfonlayer}
% blue dashed arrows
\draw[bd] (cmd.12) -- (cen.176);
\draw[bd] plot[smooth,tension=0.55] coordinates {(dlh.north) (w1) (w2) (w3) (w4) (cen.184)};
\draw[bd] (df) -- (cen);
\draw[bd] (edad) -- (cen);
\draw[bd] (con.170) .. controls (2238,18) and (1930,27) .. (cen.east);
\end{tikzpicture}
\end{document}
